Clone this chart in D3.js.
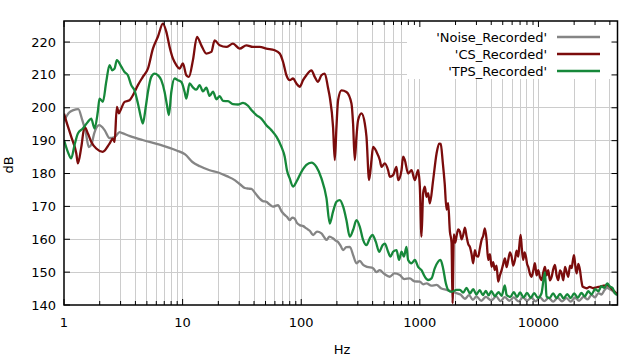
<!DOCTYPE html>
<html><head><meta charset="utf-8">
<script src="https://cdn.jsdelivr.net/npm/d3@7"></script>
<style>body{margin:0;background:#fff}svg{display:block}text{font-family:"DejaVu Sans",sans-serif;fill:#000}</style>
</head><body><svg id="c" width="622" height="357"></svg>
<script>
// ---------- data ----------
const xTickLabels = [1, 10, 100, 1000, 10000];
const yTickValues = [140, 150, 160, 170, 180, 190, 200, 210, 220];
const seriesNames = ["'Noise_Recorded'", "'CS_Recorded'", "'TPS_Recorded'"];

const noiseHz = [1.0,1.1,1.2,1.32,1.42,1.52,1.62,1.7,1.8,1.98,2.2,2.42,2.7,2.94,3.1,3.6,4.6,6.4,8.9,10.5,12.1,14,16.9,20,23.6,27.5,31,33.4,36,38,41,44.6,47.5,50.8,54,57.8,63.7,68,72.5,76,79.9,84,88.1,92,97.1,104,110.6,118,125.9,136,148,155,163,173,185,195,204,215,225,240,257,275,292,312,333,360,404,430,459,500,558,610,678,740,824,900,1000,1070,1140,1250,1384,1520,1680,1850,2040,2200,2400,2600,2800,3000,3300,3600,4000,4400,4800,5200,5700,6200,6800,7400,8000,8700,9500,10300,11200,12200,13300,14500,15800,17200,18700,20300,22000,24000,26000,28000,30000,32000,34000,36000,38000,40000,42000,44000,46000];
const noiseDb = [196.0,198.5,199.3,199.6,196.5,192.8,188.0,188.8,192.3,194.7,193.2,190.8,191.2,192.6,192.3,191.4,190.2,188.8,187.0,185.8,183.5,182.2,181.0,180.3,179.2,178.0,176.5,175.6,175.4,175.3,174.0,172.4,171.6,171.4,170.6,169.9,170.4,168.6,167.4,166.8,165.8,166.6,166.3,165.0,164.3,164.0,163.3,162.6,161.3,162.3,161.8,160.8,159.8,160.8,160.3,159.6,159.2,158.0,156.7,157.6,157.7,155.0,152.7,153.4,152.2,151.6,151.2,150.0,150.6,149.5,148.6,149.6,149.1,147.9,148.1,147.2,147.1,146.3,146.6,145.9,146.1,145.0,144.6,144.1,143.6,143.2,141.9,143.0,141.6,142.6,141.3,142.5,141.4,142.6,141.2,142.4,141.3,142.3,141.1,142.3,141.3,142.2,141.1,142.3,141.2,142.2,141.0,142.2,141.1,142.1,141.0,142.2,141.3,142.5,141.7,143.1,142.3,143.6,143.2,144.5,145.2,144.8,144.4,143.6,143.2];

const csHz = [1.0,1.06,1.15,1.27,1.31,1.40,1.49,1.59,1.70,1.87,2.12,2.42,2.58,2.67,2.79,2.90,3.04,3.24,3.57,3.81,4.20,4.62,5.10,5.62,6.19,6.82,7.29,7.77,8.28,8.85,9.43,10.06,10.74,11.30,12.22,13.21,14.38,15.85,17.47,18.62,20.52,23.38,26.58,30.27,34.48,39.2,44.64,50.85,59.77,65.85,70.23,75.02,79.98,85.28,91.1,97.1,103.6,110.6,121.9,130,138.6,148.1,157.9,168.4,174,185.5,191.8,198.2,204.5,218.4,240.6,265.2,273.6,282.8,292.3,301.5,322.1,343.6,354.9,373.5,391.3,403.6,431.2,459.8,475.2,506.7,540.2,558.3,595.1,635.8,656,700.9,722.8,747.2,796.7,851.1,907.6,967.6,1000,1033,1066,1102,1139,1175,1214,1295,1384,1455,1500,1560,1620,1680,1733,1791,1851,1888,1936,1990,2040,2110,2176,2250,2320,2400,2479,2560,2642,2730,2818,2911,3000,3105,3200,3317,3420,3536,3655,3771,3900,4027,4150,4296,4430,4579,4730,4892,5050,5216,5390,5564,5750,5941,6130,6335,6540,6752,6900,7076,7250,7441,7640,7843,8020,8204,8480,8763,9050,9343,9650,9961,10300,10640,11000,11347,11700,12095,12500,12925,13350,13782,14230,14695,15200,15698,16200,16740,17300,17849,18450,19064,19500,19937,20450,21010,21700,22400,23000,23600,24500,25510,27000,29000,31000,33040,35500,37850,40000,41700,44000,46000];
const csDb = [198.2,195.2,191.2,186.1,183.1,188.1,194.2,192.2,189.6,187.6,186.6,189.1,190.6,189.6,200.3,198.3,199.8,201.8,202.3,203.8,206.9,209.4,211.9,218.0,221.6,225.6,223.1,218.5,215.0,213.0,211.9,213.5,209.9,209.4,214.5,221.6,219.0,216.5,217.0,220.5,219.0,218.5,219.5,218.0,219.0,218.5,218.5,218.0,217.5,216.5,214.0,209.9,208.4,208.9,207.4,206.4,208.4,209.9,211.4,209.4,207.9,209.9,210.4,206.0,203.3,194.2,184.1,194.2,202.3,205.3,204.8,201.3,195.2,184.1,191.2,196.2,198.3,195.2,191.2,178.0,184.1,188.1,186.6,184.1,182.0,183.1,181.0,179.0,179.5,182.0,178.0,181.0,185.1,184.1,180.0,181.0,178.0,181.0,176.0,160.8,174.0,176.0,172.9,174.0,170.9,178.0,186.1,189.1,189.0,183.5,177.0,169.0,171.0,162.5,159.0,140.5,161.5,159.0,161.0,163.0,162.3,160.0,161.3,163.5,160.8,158.5,157.7,155.5,152.7,156.7,155.0,154.7,157.0,159.8,161.0,163.3,159.8,153.7,155.5,151.6,153.0,150.6,152.0,147.1,149.0,150.6,152.5,154.2,151.5,153.7,156.0,154.7,152.0,153.7,156.5,154.7,158.0,161.3,157.0,153.7,156.0,154.7,152.5,151.6,149.5,148.6,150.5,152.7,149.0,150.6,148.5,147.6,150.0,151.6,149.0,150.6,147.5,148.6,151.0,152.2,149.0,147.6,150.5,149.6,147.5,151.6,150.0,148.6,152.0,151.2,153.5,155.2,152.0,149.6,152.5,150.6,147.5,145.6,145.3,145.1,145.5,145.1,145.4,145.6,145.9,146.0,145.6,144.8,144.0,143.3];

const tpsHz = [1.0,1.077,1.15,1.226,1.31,1.441,1.587,1.696,1.809,1.928,1.993,2.126,2.271,2.42,2.55,2.667,2.79,3.04,3.24,3.456,3.689,3.93,4.20,4.48,4.62,4.87,5.10,5.44,5.80,6.19,6.61,7.05,7.38,7.66,8.03,8.56,9.13,9.75,10.4,10.74,11.45,12.22,13.05,13.9,14.83,15.85,16.9,18.04,19.27,20.52,21.9,24.1,26.58,29.3,32.3,35.6,38.0,41.9,46.1,50.85,56.0,61.8,68.1,72.6,75.8,80,85.3,91.1,100.4,110.6,121.9,134.3,148.1,163.2,174,185.5,198.2,211.5,225.7,240.6,256.7,273.6,292.3,311.8,332.5,354.9,378.6,398.8,425.8,453.9,485.1,506.7,540.2,565.4,595.1,635.8,668.4,700.9,733.8,771.6,796.7,851.1,907.6,967.6,1033,1102,1175,1254,1338,1427,1494,1570,1657,1733,1851,2040,2176,2320,2479,2642,2818,3000,3200,3400,3600,3800,4000,4300,4600,4900,5200,5400,5800,6200,6600,7000,7500,8000,8600,9200,9900,10600,11347,11700,12400,13300,14200,15200,16300,17500,18700,20000,21500,23000,24600,26300,28000,30000,32000,34000,36000,38000,40000,42000,44000,46000];
const tpsDb = [190.2,186.6,184.6,188.6,192.2,193.7,195.7,196.7,193.7,198.8,202.8,201.8,207.9,213.0,211.4,211.9,214.5,212.5,210.9,209.9,206.9,205.3,201.3,196.7,195.2,199.8,204.8,209.4,210.4,209.9,208.4,204.8,200.8,197.8,204.8,208.9,208.4,207.9,204.8,202.8,207.4,206.2,205.5,206.9,205.0,206.1,203.6,204.9,202.6,203.5,202.1,202.0,201.1,201.0,201.5,200.6,199.3,197.8,196.7,194.7,193.2,191.2,188.1,185.1,181.0,178.5,176.0,177.5,180.5,182.6,183.3,182.0,178.5,172.5,164.8,168.4,171.4,171.9,169.9,165.8,160.8,162.8,165.8,163.8,159.8,158.2,160.3,161.3,159.2,156.2,158.2,158.7,156.2,154.7,156.2,156.7,153.7,156.2,154.7,157.7,153.7,152.7,153.7,151.6,150.6,148.6,147.6,148.1,151.2,153.2,153.7,151.2,146.6,144.6,144.0,144.6,144.6,143.8,145.2,143.5,144.8,143.2,144.5,143.0,144.3,142.9,144.2,142.7,143.9,142.8,146.0,143.0,142.5,143.9,142.4,143.8,142.3,143.7,142.2,143.6,142.2,143.5,150.0,142.6,142.1,143.5,142.1,143.4,142.0,143.3,142.1,143.5,142.2,143.7,142.6,144.2,143.2,144.8,144.2,145.7,145.2,146.6,145.6,145.2,143.7,143.0];

// ---------- layout ----------
const L = 64, R = 617.5, T = 21, B = 305;
const svg = d3.select("#c");
const x = d3.scaleLog().domain([1, 46400]).range([L, R]);
const y = d3.scaleLinear().domain([140, 226.4]).range([B, T]);
const colors = ["#858585", "#7b0c0c", "#16883a"];

// grid
const minorVals = [];
for (let d = 1; d <= 10000; d *= 10) for (let k = 1; k <= 9; k++) { const v = d * k; if (v <= 46400) minorVals.push(v); }
const grid = svg.append("g").attr("stroke", "#cccccc").attr("stroke-width", 1).attr("shape-rendering", "crispEdges");
grid.selectAll("line.v").data(minorVals.filter(v => v > 1)).enter().append("line")
  .attr("x1", d => x(d)).attr("x2", d => x(d)).attr("y1", T).attr("y2", B);
grid.selectAll("line.h").data(yTickValues.filter(v => v > 140)).enter().append("line")
  .attr("x1", L).attr("x2", R).attr("y1", d => y(d)).attr("y2", d => y(d));

// legend background
svg.append("rect").attr("x", 407).attr("y", T + 1).attr("width", R - 408).attr("height", 57).attr("fill", "#fff");

// data lines
svg.append("clipPath").attr("id", "clip").append("rect").attr("x", L).attr("y", T).attr("width", R - L).attr("height", B - T);
const line = d3.line().x(d => x(d[0])).y(d => y(d[1])).curve(d3.curveMonotoneX);
const series = [d3.zip(noiseHz, noiseDb), d3.zip(csHz, csDb), d3.zip(tpsHz, tpsDb)];
const lg = svg.append("g").attr("clip-path", "url(#clip)");
series.forEach((s, i) => {
  lg.append("path").attr("d", line(s)).attr("fill", "none").attr("stroke", colors[i])
    .attr("stroke-width", 2.3).attr("stroke-linejoin", "round");
});

// ticks
const tk = svg.append("g").attr("stroke", "#000").attr("stroke-width", 1);
minorVals.forEach(v => {
  const major = xTickLabels.includes(v);
  const len = major ? 6 : 4;
  tk.append("line").attr("x1", x(v)).attr("x2", x(v)).attr("y1", B).attr("y2", B - len);
  tk.append("line").attr("x1", x(v)).attr("x2", x(v)).attr("y1", T).attr("y2", T + len);
});
yTickValues.forEach(v => {
  tk.append("line").attr("x1", L).attr("x2", L + 6).attr("y1", y(v)).attr("y2", y(v));
  tk.append("line").attr("x1", R).attr("x2", R - 6).attr("y1", y(v)).attr("y2", y(v));
});

// border
svg.append("rect").attr("x", L).attr("y", T).attr("width", R - L).attr("height", B - T)
  .attr("fill", "none").attr("stroke", "#000").attr("stroke-width", 1.5);

// tick labels
svg.selectAll("text.xl").data(xTickLabels).enter().append("text")
  .attr("x", d => x(d)).attr("y", 327).attr("text-anchor", "middle").attr("font-size", 13).text(d => d);
svg.selectAll("text.yl").data(yTickValues).enter().append("text")
  .attr("x", 56).attr("y", d => y(d) + 4.5).attr("text-anchor", "end").attr("font-size", 13).text(d => d);

// axis titles
svg.append("text").attr("x", 342).attr("y", 354).attr("text-anchor", "middle").attr("font-size", 13).text("Hz");
svg.append("text").attr("transform", "translate(13,165) rotate(-90)").attr("text-anchor", "middle").attr("font-size", 13).text("dB");

// legend
const legY = [37, 54, 71];
seriesNames.forEach((n, i) => {
  svg.append("text").attr("x", 547).attr("y", legY[i] + 4.5).attr("text-anchor", "end").attr("font-size", 13).text(n);
  svg.append("line").attr("x1", 557).attr("x2", 600).attr("y1", legY[i]).attr("y2", legY[i])
    .attr("stroke", colors[i]).attr("stroke-width", 2.3);
});
</script></body></html>
